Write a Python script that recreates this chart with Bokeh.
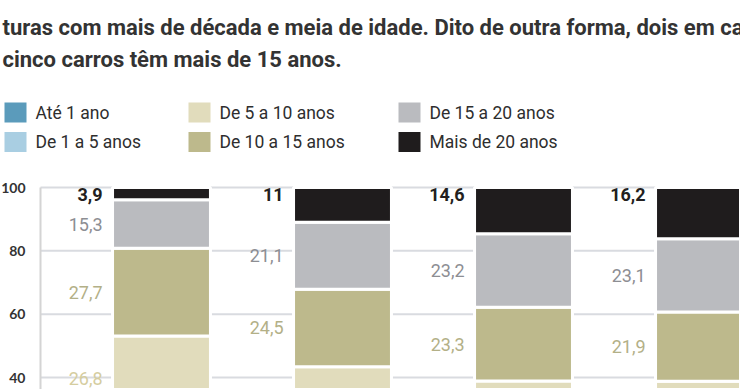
from bokeh.plotting import figure
from bokeh.layouts import column
from bokeh.models import ColumnDataSource, FixedTicker, Range1d
from bokeh.embed import file_html
from bokeh.resources import INLINE
from bokeh.core.properties import value

# ---------------- data ----------------
categories = ["2000", "2005", "2010", "2015"]
series = ["Até 1 ano", "De 1 a 5 anos", "De 5 a 10 anos",
          "De 10 a 15 anos", "De 15 a 20 anos", "Mais de 20 anos"]
ate_1 = [4.9, 4.2, 4.1, 4.5]
de_1_5 = [21.4, 14.6, 14.3, 16.2]
de_5_10 = [26.8, 24.6, 20.5, 18.1]
de_10_15 = [27.7, 24.5, 23.3, 21.9]
de_15_20 = [15.3, 21.1, 23.2, 23.1]
mais_20 = [3.9, 11.0, 14.6, 16.2]
y_ticks = [40, 60, 80, 100]
text_lines = ["turas com mais de década e meia de idade. Dito de outra forma, dois em cada",
              "cinco carros têm mais de 15 anos."]

# ---------------- styles / layout ----------------
bar_colors = ["#5b9bbb", "#a9cee2", "#e1dcbc", "#bdb98c", "#babbbf", "#1f1c1d"]
label_colors = ["#4f89a6", "#8fb6cb", "#d5cd9f", "#b3b087", "#8d8e93", "#231f20"]
FONT = "Roboto"
W = 740
TOP_H = 173
BAR_H = 216

# ---------------- header figure: paragraph + legend ----------------
head = figure(width=W, height=TOP_H, output_backend="svg", toolbar_location=None,
              x_range=Range1d(0, W), y_range=Range1d(TOP_H, 0),
              x_axis_type=None, y_axis_type=None, min_border=0)
head.grid.visible = False
head.outline_line_color = None

line_y = [27, 59]
head.text(x=[2] * len(text_lines), y=line_y, text=text_lines,
          text_font=value(FONT), text_font_size="22px", text_font_style="bold",
          text_color="#333333", text_baseline="alphabetic", text_align="left")

legend_col_x = [4, 188, 398]
legend_row_y = [112, 141.5]
sw_x, sw_y, tx_x = [], [], []
for i in range(len(series)):
    c, r = divmod(i, 2)
    sw_x.append(legend_col_x[c] + 11)
    sw_y.append(legend_row_y[r])
    tx_x.append(legend_col_x[c] + 31)
head.rect(x=sw_x, y=sw_y, width=22, height=20, fill_color=bar_colors, line_color=None)
head.text(x=tx_x, y=sw_y, text=series, text_font=value(FONT), text_font_size="17.5px",
          text_color="#2e2e2e", text_baseline="middle", text_align="left")

# ---------------- stacked bars ----------------
values = [ate_1, de_1_5, de_5_10, de_10_15, de_15_20, mais_20]
xs = list(range(len(categories)))
data = {"x": xs}
for name, vals in zip(series, values):
    data[name] = vals
source = ColumnDataSource(data)

x0, x1 = -0.8895, 3.1989
axis_x = -0.6685
y0, y1 = 36.22, 102.53
p = figure(width=W, height=BAR_H, output_backend="svg", toolbar_location=None,
           x_range=Range1d(x0, x1), y_range=Range1d(y0, y1),
           min_border_left=0, min_border_top=6, min_border_bottom=0, min_border_right=0)
p.outline_line_color = None
p.xaxis.visible = False
p.grid.visible = False

# horizontal grid lines from the axis to the right edge
p.segment(x0=[axis_x] * len(y_ticks), x1=[x1] * len(y_ticks), y0=y_ticks, y1=y_ticks,
          line_color="#d9dbe0", line_width=2)

bar_w = 0.541
p.vbar_stack(series, x="x", width=bar_w, color=bar_colors, source=source,
             line_color="white", line_width=3)

lx, ly, lt, lc, lb, lf = [], [], [], [], [], []
for k in range(len(categories)):
    base = 0.0
    for s_i, vals in enumerate(values):
        v = vals[k]
        top = base + v
        if s_i == len(values) - 1:
            yy, bl, fs = top, "top", "bold"
        else:
            yy, bl, fs = base + v / 2, "middle", "normal"
        base = top
        if yy < y0:
            continue
        lx.append(xs[k] - bar_w / 2)
        ly.append(yy)
        lb.append(bl)
        lf.append(fs)
        lt.append(f"{v:g}".replace(".", ","))
        lc.append(label_colors[s_i])
lsrc = ColumnDataSource(dict(x=lx, y=ly, t=lt, c=lc, b=lb, f=lf))
p.text(x="x", y="y", text="t", text_color="c", text_baseline="b", text_font_style="f",
       text_align="right", x_offset=-10, source=lsrc,
       text_font=value(FONT), text_font_size="18px")

yax = p.yaxis[0]
yax.fixed_location = axis_x
yax.bounds = (y0, max(y_ticks))
yax.ticker = FixedTicker(ticks=y_ticks)
yax.major_tick_line_color = None
yax.minor_tick_line_color = None
yax.axis_line_color = "#d4d4d4"
yax.axis_line_width = 2
yax.major_label_standoff = 9
yax.major_label_text_font = "Lato"
yax.major_label_text_font_style = "bold"
yax.major_label_text_font_size = "14px"
yax.major_label_text_color = "#333333"

layout = column(head, p, spacing=0)
open("out.html", "w").write(file_html(layout, INLINE))
